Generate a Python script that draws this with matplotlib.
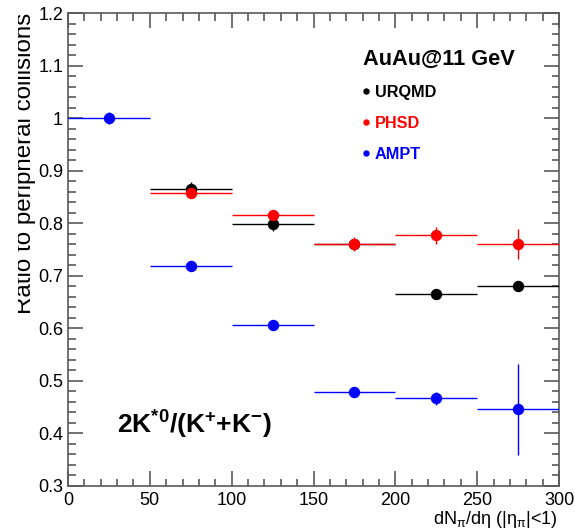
import matplotlib
matplotlib.use("Agg")
import matplotlib.pyplot as plt
from matplotlib.ticker import MultipleLocator, FuncFormatter
from matplotlib.transforms import Bbox, TransformedBbox

plt.rcParams['font.family'] = ['Liberation Sans', 'DejaVu Sans']
plt.rcParams['mathtext.fontset'] = 'custom'
plt.rcParams['mathtext.rm'] = 'Liberation Sans'
plt.rcParams['mathtext.it'] = 'Liberation Sans:italic'
plt.rcParams['mathtext.bf'] = 'Liberation Sans:bold'

# ---- data ----
bin_halfwidth = [25, 25, 25, 25, 25, 25]

ampt_x = [25, 75, 125, 175, 225, 275]
ampt_y = [1.000, 0.718, 0.606, 0.479, 0.467, 0.446]
ampt_err = [0.012, 0.005, 0.008, 0.008, 0.012, 0.087]

urqmd_x = [75, 125, 175, 225, 275]
urqmd_y = [0.866, 0.798, 0.760, 0.665, 0.680]
urqmd_err = [0.012, 0.012, 0.008, 0.006, 0.008]

phsd_x = [75, 125, 175, 225, 275]
phsd_y = [0.857, 0.816, 0.761, 0.777, 0.760]
phsd_err = [0.008, 0.010, 0.013, 0.016, 0.029]

xerr_ampt = bin_halfwidth
xerr_models = bin_halfwidth[1:]

W, H = 575, 532
fig = plt.figure(figsize=(W / 100, H / 100), dpi=100)
ax_l, ax_r, ax_t, ax_b = 68, 559, 13, 486
ax = fig.add_axes([ax_l / W, 1 - ax_b / H, (ax_r - ax_l) / W, (ax_b - ax_t) / H])

ms = 7.2
ax.errorbar(ampt_x, ampt_y, xerr=xerr_ampt, yerr=ampt_err, fmt='o', color='#0000ff',
            ms=ms, elinewidth=1.0, capsize=0, zorder=3)
ax.errorbar(urqmd_x, urqmd_y, xerr=xerr_models, yerr=urqmd_err, fmt='o', color='black',
            ms=ms, elinewidth=1.0, capsize=0, zorder=3)
ax.errorbar(phsd_x, phsd_y, xerr=xerr_models, yerr=phsd_err, fmt='o', color='#ff0000',
            ms=ms, elinewidth=1.0, capsize=0, zorder=4)

ax.set_xlim(0, 300)
ax.set_ylim(0.3, 1.2)
ax.xaxis.set_major_locator(MultipleLocator(50))
ax.xaxis.set_minor_locator(MultipleLocator(10))
ax.yaxis.set_major_locator(MultipleLocator(0.1))
ax.yaxis.set_minor_locator(MultipleLocator(0.02))
ax.yaxis.set_major_formatter(FuncFormatter(lambda v, p: f"{v:g}"))
ax.xaxis.set_major_formatter(FuncFormatter(lambda v, p: f"{v:g}"))

axcol = '0.35'
for s in ax.spines.values():
    s.set_color(axcol)
    s.set_linewidth(1.2)
ax.tick_params(which='both', direction='in', top=True, right=True, color=axcol,
               width=1.2, labelsize=13)
ax.tick_params(which='major', length=10.8)
ax.tick_params(which='minor', length=5.4)
ax.tick_params(axis='y', which='major', pad=3.6)
ax.tick_params(axis='x', which='major', pad=4.5)

# y label (clipped at left edge like the reference)
yl = fig.text(31 / W, 1 - 13 / H, 'Ratio to peripheral collisions', rotation=90,
              rotation_mode='anchor', ha='right', va='baseline', fontsize=17.4)
yl.set_clip_box(TransformedBbox(Bbox([[18 / W, 0], [1, 1]]), fig.transFigure))
yl.set_clip_on(True)

# x label
fig.text(558 / W, 1 - 524 / H, r'dN$_{\mathrm{π}}$/dη (|η$_{\mathrm{π}}$|<1)',
         ha='right', va='baseline', fontsize=13)

# annotations
ax.text(0.601, 0.890, 'AuAu@11 GeV', transform=ax.transAxes, fontsize=15.7,
        fontweight='bold', ha='left', va='baseline')

leg_names = ['URQMD', 'PHSD', 'AMPT']
leg_colors = ['black', '#ff0000', '#0000ff']
leg_y = [0.836, 0.770, 0.704]
leg_base = [0.823, 0.757, 0.691]
for name, c, yd, yb in zip(leg_names, leg_colors, leg_y, leg_base):
    ax.plot([0.607], [yd], 'o', ms=3.6, color=c, transform=ax.transAxes, clip_on=False)
    ax.text(0.625, yb, name, transform=ax.transAxes, fontsize=11.7, fontweight='bold',
            color=c, ha='left', va='baseline')

ax.text(0.0998, 0.110, r'2K$^{\mathbf{*0}}$/(K$^{\mathbf{+}}$+K$^{\mathbf{-}}$)',
        transform=ax.transAxes, fontsize=19, fontweight='bold', ha='left', va='baseline')

fig.savefig('out.png', dpi=100)
